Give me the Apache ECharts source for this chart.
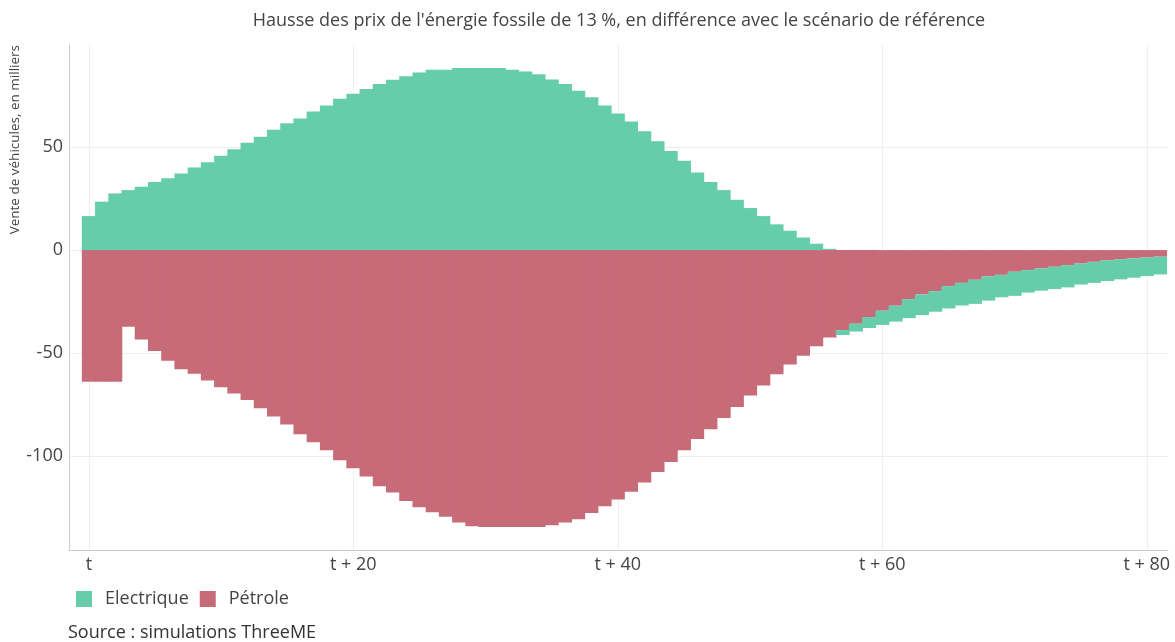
<!DOCTYPE html>
<html>
<head>
<meta charset="utf-8">
<title>Hausse des prix de l'énergie fossile</title>
<script src="https://cdn.jsdelivr.net/npm/echarts@6/dist/echarts.min.js"></script>
<style>
  html, body { margin: 0; padding: 0; background: #fff; }
  #chart { width: 1175px; height: 642px; }
</style>
</head>
<body>
<div id="chart"></div>
<script>
// ventes de véhicules, écart au scénario de référence (milliers), de t à t + 81
const electrique = [
  16.5, 23.5, 27.5, 29.1, 30.7, 33.0, 34.8, 37.1, 40.1, 42.6,
  45.8, 48.9, 52.1, 55.0, 58.4, 61.5, 63.9, 67.2, 70.2, 73.4,
  75.9, 78.2, 80.6, 82.7, 84.3, 86.1, 87.5, 87.5, 88.3, 88.3,
  88.3, 88.3, 87.5, 86.6, 85.3, 82.8, 80.6, 77.3, 74.1, 70.2,
  66.3, 62.4, 57.6, 52.8, 48.1, 43.4, 37.7, 33.0, 29.1, 24.4,
  20.4, 16.5, 12.5, 9.4, 6.1, 3.1, 0.6, -2.4, -3.8, -5.3,
  -6.9, -7.7, -9.2, -10.0, -10.0, -10.8, -11.0, -11.7, -11.7, -10.9,
  -11.7, -10.9, -10.8, -10.8, -10.8, -10.2, -10.2, -10.1, -9.8, -9.4,
  -9.0, -8.6
]
const petrole = [
  -63.9, -63.9, -63.9, -37.2, -43.4, -49.0, -53.7, -57.8, -60.0, -63.3,
  -66.5, -69.6, -72.7, -76.7, -80.7, -84.6, -89.3, -93.2, -97.1, -101.9,
  -105.8, -109.9, -114.6, -117.6, -121.7, -124.8, -127.2, -129.4, -132.2, -134.0,
  -134.3, -134.3, -134.3, -134.3, -134.3, -133.5, -132.2, -130.6, -127.5, -124.3,
  -121.0, -117.2, -112.7, -107.6, -102.8, -97.1, -91.7, -86.9, -81.4, -76.1,
  -70.6, -65.7, -60.2, -55.5, -51.3, -46.6, -42.4, -38.8, -35.7, -32.5,
  -29.4, -27.0, -23.8, -21.5, -19.9, -17.5, -15.9, -14.4, -12.8, -12.0,
  -10.5, -9.7, -8.9, -8.1, -7.3, -6.5, -5.7, -4.9, -4.4, -4.0,
  -3.6, -3.2
]
const xTickValues = [0, 20, 40, 60, 80]
const xTickLabels = ['t', 't + 20', 't + 40', 't + 60', 't + 80']
const yTickValues = [-100, -50, 0, 50]

const FONT = '"Open Sans", sans-serif'
const GREEN = '#66cdaa'
const RED = '#c76b79'

const chart = echarts.init(document.getElementById('chart'))

// value first, period second: the stack is computed on the first numeric dimension
const toPoints = arr => arr.map((v, i) => [v, i])

chart.setOption({
  animation: false,
  textStyle: { fontFamily: FONT },
  title: {
    text: "Hausse des prix de l'énergie fossile de 13 %, en différence avec le scénario de référence",
    left: 619,
    top: 12,
    textAlign: 'center',
    padding: 0,
    textStyle: { fontFamily: FONT, fontSize: 18, fontWeight: 'normal', color: '#444' }
  },
  legend: {
    data: ['Electrique', 'Pétrole'],
    left: 76,
    top: 590,
    icon: 'rect',
    itemWidth: 16,
    itemHeight: 16,
    itemGap: 11,
    padding: 0,
    textStyle: { fontFamily: FONT, fontSize: 18, color: '#444', padding: [0, 0, 0, 8] }
  },
  grid: {
    left: 69,
    right: 7,
    top: 45,
    bottom: 92,
    containLabel: false
  },
  xAxis: {
    type: 'value',
    min: -1.5,
    max: 81.6,
    axisLine: { show: true, onZero: false, lineStyle: { color: '#cccccc', width: 1 } },
    axisTick: { show: false },
    axisLabel: {
      fontFamily: FONT,
      fontSize: 18,
      color: '#444',
      margin: 6,
      showMinLabel: false,
      showMaxLabel: false,
      formatter: v => {
        const i = xTickValues.indexOf(v)
        return i >= 0 ? xTickLabels[i] : ''
      }
    },
    splitLine: {
      show: true,
      showMinLine: false,
      showMaxLine: false,
      lineStyle: { color: '#eeeeee', width: 1 }
    }
  },
  yAxis: {
    type: 'value',
    min: -145.5,
    max: 99.5,
    axisLine: { show: true, onZero: false, lineStyle: { color: '#cccccc', width: 1 } },
    axisTick: { show: false },
    axisLabel: {
      fontFamily: FONT,
      fontSize: 18,
      color: '#444',
      margin: 6,
      showMinLabel: false,
      showMaxLabel: false,
      formatter: v => (yTickValues.indexOf(v) >= 0 ? String(v) : '')
    },
    splitLine: {
      show: true,
      showMinLine: false,
      showMaxLine: false,
      lineStyle: { color: '#eeeeee', width: 1 }
    }
  },
  graphic: [
    {
      type: 'text',
      x: 15,
      y: 45,
      rotation: Math.PI / 2,
      style: {
        text: 'Vente de véhicules, en milliers',
        fontFamily: FONT,
        fontSize: 13.5,
        fill: '#444',
        align: 'right',
        verticalAlign: 'middle'
      }
    },
    {
      type: 'text',
      x: 68,
      y: 633,
      style: {
        text: 'Source : simulations ThreeME',
        fontFamily: FONT,
        fontSize: 18,
        fill: '#333',
        align: 'left',
        verticalAlign: 'middle'
      }
    }
  ],
  // Pétrole first so that, when both are negative, it sits next to zero
  series: [
    {
      name: 'Pétrole',
      type: 'bar',
      stack: 'ventes',
      barWidth: 14,
      encode: { x: 1, y: 0 },
      itemStyle: { color: RED },
      data: toPoints(petrole)
    },
    {
      name: 'Electrique',
      type: 'bar',
      stack: 'ventes',
      barWidth: 14,
      encode: { x: 1, y: 0 },
      itemStyle: { color: GREEN },
      data: toPoints(electrique)
    }
  ]
})
</script>
</body>
</html>
